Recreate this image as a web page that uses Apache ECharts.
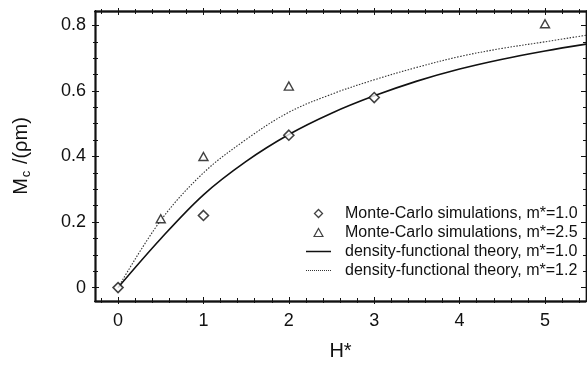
<!DOCTYPE html>
<html>
<head>
<meta charset="utf-8">
<script src="https://cdn.jsdelivr.net/npm/echarts@6/dist/echarts.min.js"></script>
<style>html,body{margin:0;padding:0;background:#fff;}#c{width:587px;height:366px;}</style>
</head>
<body>
<div id="c"></div>
<script>
// ---- data ----
const mcH_m10 = [0, 1, 2, 3];
const mcM_m10 = [0, 0.22, 0.465, 0.58];
const mcH_m25 = [0.5, 1, 2, 5];
const mcM_m25 = [0.21, 0.40, 0.615, 0.805];
const dftH = [0, 0.5, 1, 1.5, 2, 2.5, 3, 3.5, 4, 4.5, 5, 5.48];
const dft_m10 = [0, 0.149, 0.283, 0.385, 0.467, 0.532, 0.585, 0.630, 0.667, 0.697, 0.722, 0.743];
const dft_m12 = [0, 0.205, 0.350, 0.452, 0.535, 0.590, 0.634, 0.672, 0.705, 0.730, 0.750, 0.770];
const xMajorTicks = [0, 1, 2, 3, 4, 5];
const xMinorTicks = [-0.2, 0.2, 0.4, 0.6, 0.8, 1.2, 1.4, 1.6, 1.8, 2.2, 2.4, 2.6, 2.8, 3.2, 3.4, 3.6, 3.8, 4.2, 4.4, 4.6, 4.8, 5.2, 5.4];
const yMajorTicks = [0, 0.2, 0.4, 0.6, 0.8];
const yMinorTicks = [0.05, 0.1, 0.15, 0.25, 0.3, 0.35, 0.45, 0.5, 0.55, 0.65, 0.7, 0.75];
const seriesNames = [
  'Monte-Carlo simulations, m*=1.0',
  'Monte-Carlo simulations, m*=2.5',
  'density-functional theory, m*=1.0',
  'density-functional theory, m*=1.2'
];
const xMin = -0.27, xMax = 5.48, yMin = -0.041, yMax = 0.844;

const FONT = "'Liberation Sans', Arial, Helvetica, sans-serif";
const zip = (a, b) => a.map((v, i) => [v, b[i]]);

// legend icon shapes
const solidIcon = 'path://M0,0L50,0L50,3L0,3Z';
let dotPath = '';
for (let i = 0; i < 50; i += 4) dotPath += 'M' + i + ',0h2v2h-2z';
const dottedIcon = 'path://' + dotPath;

function axisCommon(extra) {
  return Object.assign({
    type: 'value',
    axisLine: { show: true, onZero: false, lineStyle: { color: '#111', width: 1.4 } },
    splitLine: { show: false },
    axisLabel: { show: false }
  }, extra);
}
function xAx(pos, vals, len, inside, withLabels) {
  const o = axisCommon({
    position: pos, min: xMin, max: xMax,
    axisTick: { show: true, inside: inside, length: len, customValues: vals, lineStyle: { color: '#111', width: 1 } }
  });
  if (withLabels) {
    o.axisLabel = { show: true, customValues: xMajorTicks, margin: 11, color: '#111', fontSize: 18, fontFamily: FONT };
    o.name = 'H*';
    o.nameLocation = 'middle';
    o.nameGap = 40;
    o.nameTextStyle = { fontSize: 20, color: '#111', fontFamily: FONT };
  }
  return o;
}
function yAx(pos, vals, len, inside, withLabels) {
  const o = axisCommon({
    position: pos, min: yMin, max: yMax,
    axisTick: { show: true, inside: inside, length: len, customValues: vals, lineStyle: { color: '#111', width: 1 } }
  });
  if (withLabels) {
    o.axisLabel = { show: true, customValues: yMajorTicks, margin: 9, color: '#111', fontSize: 18, fontFamily: FONT,
      formatter: v => (v === 0 ? '0' : v.toFixed(1)) };
    o.name = '{a|M}{b|c}{a| /(ρm)}';
    o.nameLocation = 'middle';
    o.nameGap = 62;
    o.nameTextStyle = { color: '#111', fontFamily: FONT,
      rich: { a: { fontSize: 20, fontFamily: FONT, color: '#111', lineHeight: 24 },
              b: { fontSize: 13, fontFamily: FONT, color: '#111', lineHeight: 24, padding: [10, 1, 0, 1] } } };
  }
  return o;
}

const option = {
  animation: false,
  backgroundColor: '#fff',
  grid: { left: 95, right: 1, top: 11, bottom: 63, containLabel: false },
  xAxis: [
    xAx('bottom', xMajorTicks, 4, true, true),
    xAx('bottom', xMajorTicks, 3, false, false),
    xAx('bottom', xMinorTicks, 3, true, false),
    xAx('bottom', xMinorTicks, 2, false, false),
    xAx('top', xMajorTicks, 4, true, false),
    xAx('top', xMajorTicks, 3, false, false),
    xAx('top', xMinorTicks, 3, true, false),
    xAx('top', xMinorTicks, 2, false, false)
  ],
  yAxis: [
    yAx('left', yMajorTicks, 4, true, true),
    yAx('left', yMajorTicks, 3, false, false),
    yAx('left', yMinorTicks, 3, true, false),
    yAx('left', yMinorTicks, 2, false, false),
    yAx('right', yMajorTicks, 5, true, false),
    yAx('right', yMinorTicks, 3, true, false)
  ],
  legend: {
    orient: 'vertical', left: 306, top: 204, padding: 0,
    itemWidth: 25, itemHeight: 8, itemGap: 0, symbolKeepAspect: true,
    textStyle: { fontSize: 16, fontFamily: FONT, color: '#111', lineHeight: 19, padding: [0, 0, 0, 9] },
    data: [
      { name: seriesNames[0], icon: 'path://M5,0L10,5L5,10L0,5Z', itemStyle: { color: '#fff', borderColor: '#111', borderWidth: 1.3 } },
      { name: seriesNames[1], icon: 'path://M5,1L10,10L0,10Z', itemStyle: { color: '#fff', borderColor: '#111', borderWidth: 1.2 } },
      { name: seriesNames[2], icon: solidIcon, itemStyle: { color: '#111', borderWidth: 0 } },
      { name: seriesNames[3], icon: dottedIcon, itemStyle: { color: '#333', borderWidth: 0 } }
    ]
  },
  series: [
    { name: seriesNames[2], type: 'line', data: zip(dftH, dft_m10), smooth: 0.35,
      showSymbol: false, symbol: 'none', lineStyle: { color: '#111', width: 1.6, type: 'solid' }, itemStyle: { color: '#111' }, z: 2 },
    { name: seriesNames[3], type: 'line', data: zip(dftH, dft_m12), smooth: 0.35,
      showSymbol: false, symbol: 'none', lineStyle: { color: '#333', width: 1.1, type: [1.5, 1.5] }, itemStyle: { color: '#333' }, z: 2 },
    { name: seriesNames[0], type: 'scatter', data: zip(mcH_m10, mcM_m10), symbol: 'diamond', symbolSize: 10,
      itemStyle: { color: '#fff', borderColor: '#111', borderWidth: 1.6 }, z: 5 },
    { name: seriesNames[1], type: 'scatter', data: zip(mcH_m25, mcM_m25), symbol: 'triangle', symbolSize: [9, 8],
      itemStyle: { color: '#fff', borderColor: '#111', borderWidth: 1.4 }, z: 5 }
  ]
};
const chart = echarts.init(document.getElementById('c'), null, { renderer: 'canvas' });
chart.setOption(option);
</script>
</body>
</html>
